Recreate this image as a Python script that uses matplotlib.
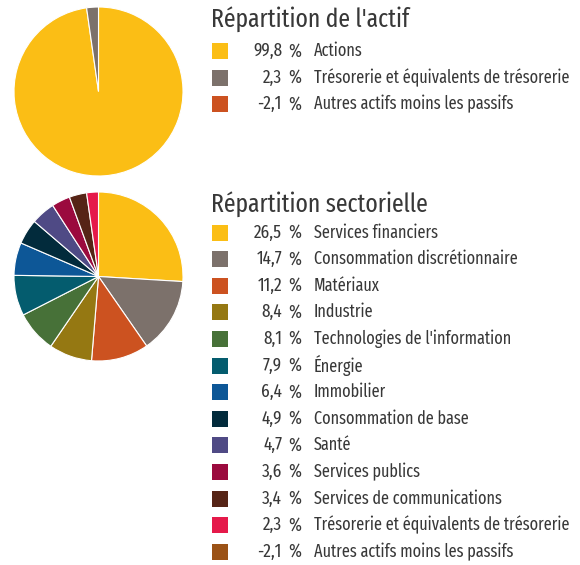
import matplotlib
matplotlib.use("Agg")
import matplotlib.pyplot as plt
from matplotlib.patches import Rectangle

# Data
asset_labels = ["Actions", "Trésorerie et équivalents de trésorerie", "Autres actifs moins les passifs"]
asset_values = [99.8, 2.3, -2.1]
asset_colors = ["#FBBE15", "#7C716B", "#CC5220"]

sector_labels = ["Services financiers", "Consommation discrétionnaire", "Matériaux", "Industrie",
                 "Technologies de l'information", "Énergie", "Immobilier", "Consommation de base",
                 "Santé", "Services publics", "Services de communications",
                 "Trésorerie et équivalents de trésorerie", "Autres actifs moins les passifs"]
sector_values = [26.5, 14.7, 11.2, 8.4, 8.1, 7.9, 6.4, 4.9, 4.7, 3.6, 3.4, 2.3, -2.1]
sector_colors = ["#FBBE15", "#7C716B", "#CC5220", "#957812", "#477138", "#045C6E", "#0D5797",
                 "#022B3C", "#4F4A85", "#9B0A3E", "#562416", "#E5194A", "#9B5216"]

plt.rcParams["font.family"] = ["Fira Sans Extra Condensed", "Fira Sans Condensed", "DejaVu Sans"]

W, H = 580, 565
fig = plt.figure(figsize=(W / 100, H / 100), dpi=100)

def pie_axes(x0, y0, w, h):
    return fig.add_axes([x0 / W, 1 - (y0 + h) / H, w / W, h / H])

def draw_pie(ax, vals, cols):
    v = [x for x in vals if x > 0]
    c = [cc for x, cc in zip(vals, cols) if x > 0]
    ax.pie(v, colors=c, startangle=90, counterclock=False,
           wedgeprops=dict(edgecolor="white", linewidth=0.8))
    ax.set_xlim(-1.0, 1.0)
    ax.set_ylim(-1.0, 1.0)
    ax.set_aspect("equal")
    ax.axis("off")

ax1 = pie_axes(14, 7, 169, 169)
draw_pie(ax1, asset_values, asset_colors)
ax2 = pie_axes(14, 192, 169, 169)
draw_pie(ax2, sector_values, sector_colors)

tx = fig.add_axes([0, 0, 1, 1])
tx.set_xlim(0, W)
tx.set_ylim(H, 0)
tx.axis("off")

txt_col = "#383838"

def fmt(v):
    return f"{v:.1f}".replace(".", ",")

def legend(title, title_y, y0, labels, vals, cols):
    tx.text(211, title_y, title, fontsize=18.5, color=txt_col, va="center", ha="left")
    for i, (lab, v, c) in enumerate(zip(labels, vals, cols)):
        y = y0 + i * 26.6
        tx.add_patch(Rectangle((212, y - 8), 16, 16, facecolor=c, edgecolor="none"))
        tx.text(282, y, fmt(v), fontsize=13.5, color=txt_col, va="center", ha="right")
        tx.text(301, y, "%", fontsize=13.5, color=txt_col, va="center", ha="right")
        tx.text(314, y, lab, fontsize=12.7, color=txt_col, va="center", ha="left")

legend("Répartition de l'actif", 19, 51, asset_labels, asset_values, asset_colors)
legend("Répartition sectorielle", 204, 232.5, sector_labels, sector_values, sector_colors)

fig.savefig("out.png", dpi=100)
